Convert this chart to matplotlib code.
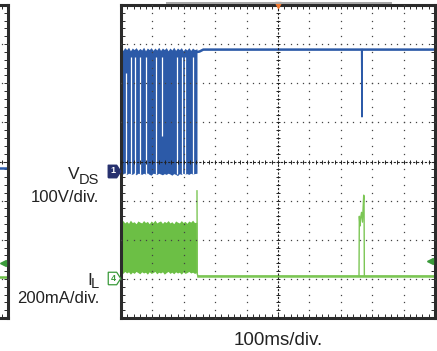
import numpy as np
import matplotlib
matplotlib.use("Agg")
import matplotlib.pyplot as plt
from matplotlib.patches import Rectangle

plt.rcParams['font.family'] = ['Liberation Sans', 'DejaVu Sans']

# time in ms (100 ms/div), amplitude in divisions (8 div screen, centre = 0)
burst_t = [0, 6, 12, 18, 24, 30, 36, 42, 48, 54, 60, 66, 72, 78, 84, 90, 96,
           102, 108, 114, 120, 126, 132, 138, 144, 150, 156, 162, 168, 174,
           180, 186, 192, 198, 204, 210, 216, 222, 228, 234, 242]
vds_top = [2.90, 2.84, 2.91, 2.86, 2.92, 2.83, 2.90, 2.86, 2.91, 2.84, 2.89,
           2.85, 2.92, 2.83, 2.90, 2.86, 2.91, 2.84, 2.90, 2.85, 2.92, 2.84,
           2.90, 2.86, 2.91, 2.83, 2.90, 2.85, 2.92, 2.84, 2.90, 2.86, 2.91,
           2.83, 2.89, 2.85, 2.91, 2.84, 2.90, 2.86, 2.88]
vds_bot = [-0.30, -0.32, -0.29, -0.33, -0.30, -0.31, -0.33, -0.29, -0.34, -0.30,
           -0.31, -0.33, -0.30, -0.32, -0.29, -0.33, -0.35, -0.30, -0.31, -0.33,
           -0.30, -0.32, -0.34, -0.31, -0.33, -0.30, -0.32, -0.35, -0.31, -0.33,
           -0.36, -0.31, -0.33, -0.30, -0.32, -0.31, -0.33, -0.30, -0.32, -0.31, -0.30]
# white gaps inside the switching burst: time, lower end, upper end
gap_t = [17, 32, 46, 60, 81, 111, 131, 178, 193, 204, 228]
gap_lo = [-0.33, -0.33, -0.33, -0.33, -0.33, -0.33, 0.65, -0.33, -0.33, -0.33, -0.33]
gap_hi = [2.26, 2.67, 2.67, 2.67, 2.67, 2.67, 2.67, 2.67, 2.67, 2.67, 2.67]

vds_t = [242, 250, 262, 1000]
vds_v = [2.80, 2.81, 2.86, 2.86]
spike_t = [766, 767.5, 768.5, 770]
spike_v = [2.86, 1.14, 2.84, 2.86]

il_top = [-1.55, -1.51, -1.57, -1.53, -1.58, -1.50, -1.56, -1.54, -1.59, -1.52,
          -1.55, -1.57, -1.51, -1.56, -1.53, -1.59, -1.52, -1.56, -1.50, -1.57,
          -1.54, -1.52, -1.58, -1.53, -1.56, -1.51, -1.57, -1.54, -1.59, -1.52,
          -1.55, -1.57, -1.51, -1.56, -1.53, -1.58, -1.52, -1.55, -1.50, -1.56, -1.55]
il_bot = [-2.83, -2.86, -2.81, -2.85, -2.82, -2.88, -2.83, -2.86, -2.81, -2.84,
          -2.87, -2.82, -2.85, -2.83, -2.88, -2.82, -2.86, -2.84, -2.81, -2.87,
          -2.83, -2.85, -2.82, -2.88, -2.84, -2.81, -2.86, -2.83, -2.87, -2.82,
          -2.85, -2.83, -2.88, -2.82, -2.86, -2.84, -2.81, -2.85, -2.83, -2.86, -2.84]
il_t = [242, 243, 245, 1000]
il_v = [-0.75, -2.88, -2.93, -2.93]
pulse_t = [758, 759, 761, 763, 766, 769, 771, 773, 774, 775]
pulse_v = [-2.93, -1.40, -1.65, -1.45, -1.30, -1.55, -1.20, -0.86, -0.90, -2.93]

ch1_level = -0.24
ch4_level = -2.98
left_vds = -0.17
left_il = -2.95

W, H = 437, 351
fig = plt.figure(figsize=(W / 100, H / 100), dpi=100)

blue = '#2c5aa8'
green = '#6cbf45'
frame = '#2b2b2b'


def draw_screen(ax):
    ax.set_xlim(0, 1000)
    ax.set_ylim(-4, 4)
    ax.set_facecolor('white')
    for s in ax.spines.values():
        s.set_linewidth(2.2)
        s.set_color(frame)
    ax.set_xticks(np.arange(0, 1001, 20))
    ax.set_yticks(np.arange(-4, 4.01, 0.2))
    ax.tick_params(direction='in', length=2.8, width=0.7, color=frame,
                   top=True, right=True, labelbottom=False, labelleft=False)
    ys = np.arange(-4, 4.01, 0.2)
    xs = np.arange(0, 1001, 20)
    for gx in [100, 200, 300, 400, 600, 700, 800, 900]:
        ax.plot([gx] * len(ys), ys, ls='none', marker='s', ms=0.9,
                mew=0, color='#444444', zorder=3)
    for gy in [-3, -2, -1, 1, 2, 3]:
        ax.plot(xs, [gy] * len(xs), ls='none', marker='s', ms=0.9,
                mew=0, color='#444444', zorder=3)
    ax.axvline(500, ls=(0, (2, 1.5)), lw=0.8, color='#222222', zorder=3)
    ax.axhline(0, ls=(0, (2, 1.5)), lw=0.8, color='#222222', zorder=3)
    ax.plot([500] * len(ys), ys, ls='none', marker='_', ms=3.5, mew=0.7,
            color='#222222', zorder=3)
    ax.plot(xs, [0] * len(xs), ls='none', marker='|', ms=3.5, mew=0.7,
            color='#222222', zorder=3)


# partial screen on the left edge
axl = fig.add_axes([(8 - 314) / W, 1 - 318 / H, 314 / W, 313 / H])
draw_screen(axl)
axl.plot([0, 1000], [left_vds, left_vds], color=blue, lw=1.8, zorder=2)
axl.plot([0, 1000], [left_il, left_il], color=green, lw=1.8, zorder=2)
axl.plot([985], [-2.6], marker='<', ms=4, color='#3a9a3a', clip_on=False, zorder=4)

# main screen
ax = fig.add_axes([121 / W, 1 - 318 / H, 314 / W, 313 / H])
draw_screen(ax)

ax.fill_between(burst_t, vds_bot, vds_top, color=blue, lw=0, zorder=2)
ax.vlines(gap_t, gap_lo, gap_hi, color='white', lw=0.9, zorder=2)
ax.plot(vds_t, vds_v, color=blue, lw=1.8, zorder=2)
ax.plot(spike_t, spike_v, color=blue, lw=1.0, zorder=2)

ax.fill_between(burst_t, il_bot, il_top, color=green, lw=0, zorder=2)
ax.plot(il_t, il_v, color='#7cc655', lw=1.0, zorder=2)
ax.plot([245, 1000], [-2.93, -2.93], color='#7cc655', lw=1.8, zorder=2)
ax.plot(pulse_t, pulse_v, color='#7cc655', lw=1.0, zorder=2)

# channel markers
mk = [(-1, -1), (0.35, -1), (1, 0), (0.35, 1), (-1, 1), (-1, -1)]
ax.plot([-22], [ch1_level], marker=mk, ms=9, color='#26306e', mec='#26306e',
        clip_on=False, zorder=5)
ax.text(-24, ch1_level, '1', color='white', fontsize=6.5, ha='center',
        va='center', fontweight='bold', clip_on=False, zorder=6)
ax.plot([-22], [ch4_level], marker=mk, ms=9, color='white', mec='#3a9a3a',
        mew=0.9, clip_on=False, zorder=5)
ax.text(-24, ch4_level, '4', color='#3a9a3a', fontsize=6.5, ha='center',
        va='center', fontweight='bold', clip_on=False, zorder=6)
ax.plot([985], [-2.55], marker='<', ms=4, color='#3a9a3a', clip_on=False, zorder=4)
ax.plot([500], [4.0], marker='v', ms=5, color='#f07830', clip_on=False, zorder=6)

fig.patches.append(Rectangle((166 / W, 1 - 4.2 / H), (392 - 166) / W, 2 / H,
                             transform=fig.transFigure, color='#a8a8a8', lw=0))


def fx(x, y):
    return x / W, 1 - y / H


fig.text(*fx(99, 184), 'DS', fontsize=10.5, ha='right', va='baseline', color='#222222')
fig.text(*fx(79.5, 179), 'V', fontsize=12.5, ha='right', va='baseline', color='#222222')
fig.text(*fx(99, 202), '100V/div.', fontsize=12, ha='right', va='baseline', color='#222222')
fig.text(*fx(99, 288), 'L', fontsize=10.5, ha='right', va='baseline', color='#222222')
fig.text(*fx(92, 285), 'I', fontsize=12.5, ha='right', va='baseline', color='#222222')
fig.text(*fx(99, 303), '200mA/div.', fontsize=12, ha='right', va='baseline', color='#222222')
fig.text(*fx(278, 345), '100ms/div.', fontsize=13.5, ha='center', va='baseline', color='#222222')

fig.savefig('out.png', dpi=100)
